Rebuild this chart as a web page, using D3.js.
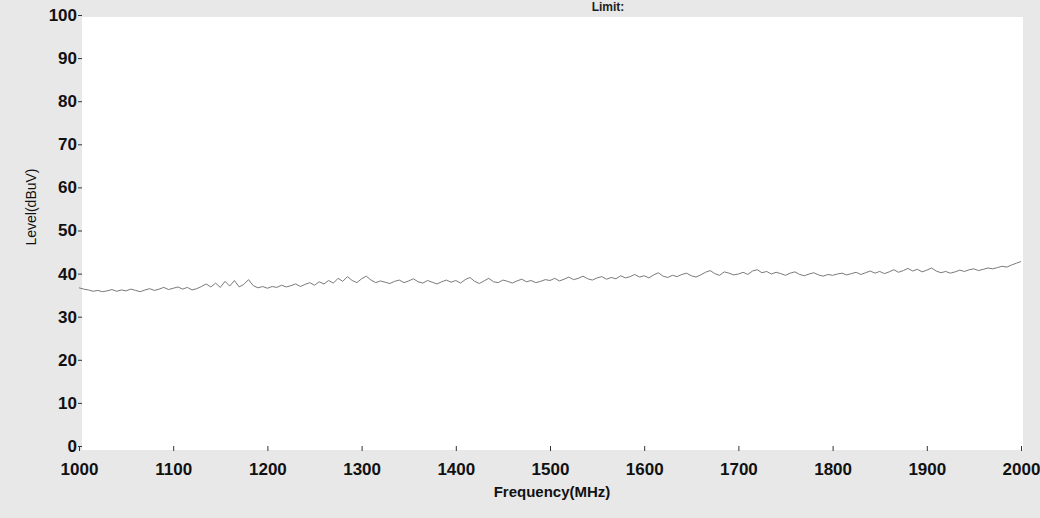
<!DOCTYPE html>
<html>
<head>
<meta charset="utf-8">
<script src="https://cdn.jsdelivr.net/npm/d3@7"></script>
<style>
  body { margin: 0; background: #e8e8e8; }
  svg { display: block; }
  .axis text { font-family: "Liberation Sans", Arial, sans-serif; font-size: 17px; font-weight: bold; fill: #111; }
  .axis line { stroke: #333; }
  .axis .domain { display: none; }
</style>
</head>
<body>
<div id="chart"></div>
<script>
// frequency ticks (MHz) and level ticks (dBuV)
var xTicks = [1000, 1100, 1200, 1300, 1400, 1500, 1600, 1700, 1800, 1900, 2000];
var yTicks = [0, 10, 20, 30, 40, 50, 60, 70, 80, 90, 100];

// measured level every 5 MHz from 1000 to 2000 MHz
var levels = [
  36.7, 36.4, 36.2, 35.9, 36.1, 35.8, 36.0, 36.3, 35.9, 36.2, 36.0, 36.4, 36.1, 35.8, 36.2, 36.5, 36.1, 36.4, 36.8, 36.3,
  36.6, 36.9, 36.4, 36.8, 36.2, 36.5, 37.0, 37.6, 36.9, 37.8, 36.8, 38.2, 37.1, 38.4, 36.9, 37.5, 38.6, 37.2, 36.7, 37.0,
  36.6, 37.0, 36.8, 37.3, 36.9, 37.2, 37.6, 37.0, 37.5, 37.9, 37.3, 38.1, 37.6, 38.4, 37.8, 38.9, 38.2, 39.3, 38.4, 37.9,
  38.8, 39.4, 38.5, 37.9, 38.3, 38.0, 37.7, 38.2, 38.5, 37.9, 38.3, 38.8, 38.1, 37.8, 38.4, 38.0, 37.6, 38.1, 38.5, 38.0,
  38.4, 37.8, 38.6, 39.1, 38.2, 37.7, 38.3, 38.9, 38.1, 37.9, 38.5, 38.2, 37.8, 38.3, 38.7, 38.1, 38.4, 37.9, 38.2, 38.6,
  38.4, 38.9, 38.3, 38.7, 39.2, 38.6, 38.9, 39.4, 38.8, 38.5, 39.0, 39.3, 38.7, 39.1, 38.8, 39.5, 39.0, 39.3, 39.8, 39.2,
  39.5, 39.0, 39.7, 40.2, 39.4, 39.1, 39.6, 39.3, 39.8, 40.1, 39.5, 39.2, 39.7, 40.3, 40.7, 40.0, 39.6, 40.4, 40.1, 39.7,
  39.9, 40.3, 39.8, 40.6, 40.9, 40.2, 40.5, 39.9, 40.3, 40.0, 39.6, 40.1, 40.4, 39.8, 39.5, 39.9, 40.2, 39.7, 39.4, 39.8,
  39.6, 39.9, 40.1, 39.7, 40.0, 40.3, 39.8, 40.2, 40.6, 40.1, 40.5, 40.0, 40.4, 40.9, 40.3, 40.7, 41.2, 40.6, 41.0, 40.4,
  40.8, 41.3, 40.6, 40.2, 40.5, 40.1, 40.4, 40.8, 40.5, 40.9, 41.1, 40.7, 41.0, 41.3, 41.1, 41.4, 41.7, 41.5, 42.0, 42.4,
  42.8
];
var fStart = 1000, fStep = 5;

const W = 1040, H = 518;

var svg = d3.select("#chart")
  .append("svg")
  .attr("width", W)
  .attr("height", H);

var x = d3.scaleLinear()
  .domain([1000, 2000])
  .range([79, 1021]);
var y = d3.scaleLinear()
  .domain([0, 100])
  .range([446, 15]);

// white plot area
svg.append("rect")
  .attr("x", 82)
  .attr("y", 17)
  .attr("width", 941)
  .attr("height", 433)
  .style("fill", "#fff");

// title, mostly lost at the top edge of the scan
svg.append("text")
  .attr("x", 608)
  .attr("y", 11)
  .attr("text-anchor", "middle")
  .style("font-family", "Liberation Sans, Arial, sans-serif")
  .style("font-size", "12px")
  .style("font-weight", "bold")
  .style("fill", "#222")
  .text("Limit:");

var xAxis = d3.axisBottom(x).tickValues(xTicks).tickSize(5).tickPadding(12).tickFormat(d3.format("d"));
var yAxis = d3.axisLeft(y).tickValues(yTicks).tickSize(4).tickPadding(1).tickFormat(d3.format("d"));

svg.append("g")
  .attr("class", "axis x")
  .attr("transform", "translate(0,446)")
  .call(xAxis);

svg.append("g")
  .attr("class", "axis y")
  .attr("transform", "translate(82,0)")
  .call(yAxis);

svg.append("text")
  .attr("x", 552)
  .attr("y", 497)
  .attr("text-anchor", "middle")
  .style("font-family", "Liberation Sans, Arial, sans-serif")
  .style("font-size", "15px")
  .style("font-weight", "bold")
  .style("fill", "#111")
  .text("Frequency(MHz)");

svg.append("text")
  .attr("transform", "translate(36,207) rotate(-90)")
  .attr("text-anchor", "middle")
  .style("font-family", "Liberation Sans, Arial, sans-serif")
  .style("font-size", "14px")
  .style("fill", "#111")
  .text("Level(dBuV)");

var line = d3.line()
  .x(function(d, i) { return x(fStart + i * fStep); })
  .y(function(d) { return y(d); });

svg.append("path")
  .datum(levels)
  .attr("d", line)
  .style("fill", "none")
  .style("stroke", "#7a7a7a")
  .style("stroke-width", 1);
</script>
</body>
</html>
